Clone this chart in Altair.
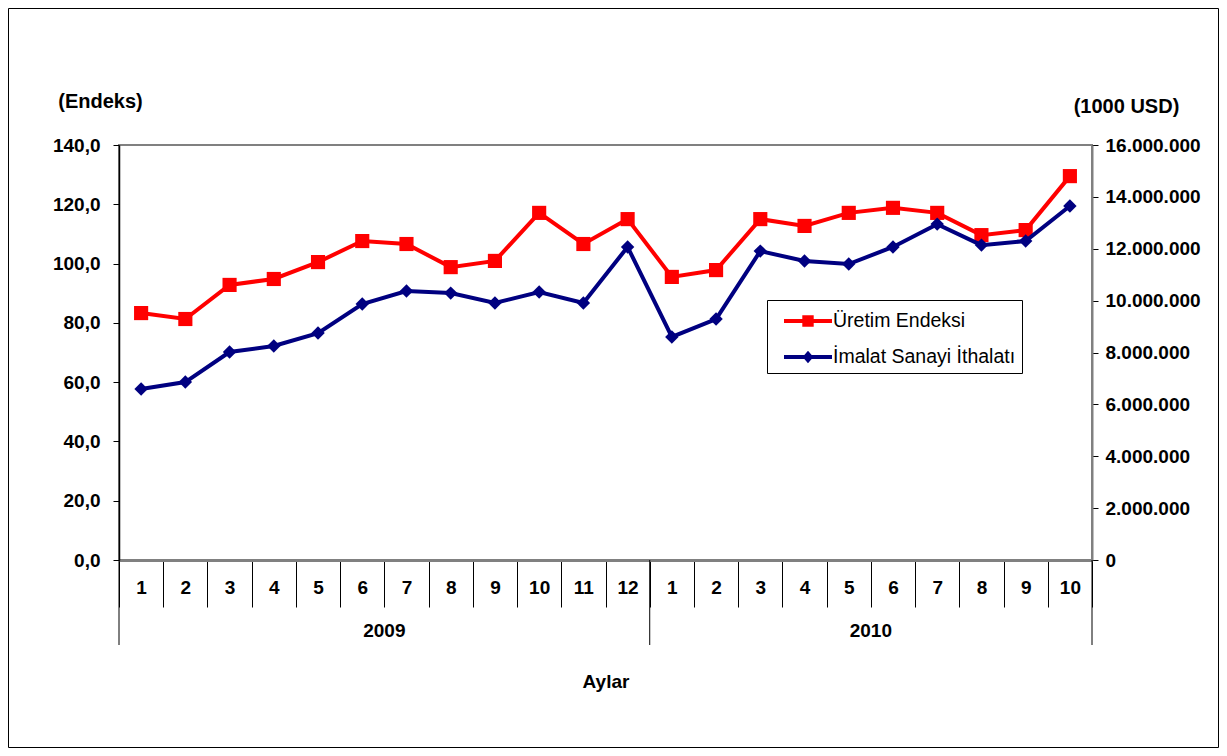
import altair as alt
import pandas as pd

keys = [f"2009-{m}" for m in range(1, 13)] + [f"2010-{m}" for m in range(1, 11)]
uretim = [83.3, 81.3, 92.8, 94.8, 100.5, 107.6, 106.6, 98.8, 100.9, 117.1, 106.6, 115.0,
          95.5, 97.8, 115.0, 112.7, 117.1, 118.8, 117.1, 109.6, 111.3, 129.5]
ithalat = [6590000, 6860000, 8020000, 8250000, 8750000, 9870000, 10370000, 10290000, 9910000,
           10330000, 9910000, 12070000, 8600000, 9290000, 11910000, 11530000, 11410000,
           12070000, 12950000, 12140000, 12300000, 13650000]
series = ["Üretim Endeksi", "İmalat Sanayi İthalatı"]
colors = ["#ff0000", "#000080"]
years = ["2009", "2010"]
year_centers = ["2009-6", "2010-5"]

df = pd.DataFrame({"key": keys, "uretim": uretim, "ithalat": ithalat})
ser_df = pd.DataFrame({"series": series})
year_df = pd.DataFrame({"anchor": year_centers, "year": years})
sep_start = pd.DataFrame({"anchor": ["2009-1", "2010-1"]})
sep_end = pd.DataFrame({"anchor": ["2010-10"]})
one = pd.DataFrame({"a": [0]})

FONT = "Liberation Sans"
LFS = 19
W, H = 973, 415

xscale = alt.Scale(type="band", domain=keys, paddingInner=0, paddingOuter=0)
xaxis = alt.Axis(
    title="Aylar", labelExpr="split(datum.label, '-')[1]", tickBand="extent",
    tickSize=47, tickColor="#000000", tickWidth=1, domainColor="#808080", domainWidth=3,
    labelFont=FONT, labelFontSize=LFS, labelFontWeight="bold", labelColor="#000",
    labelPadding=-29, labelAngle=0, labelBaseline="top",
    titleFont=FONT, titleFontSize=19, titleFontWeight="bold", titleY=121,
    titleBaseline="middle", titleColor="#000",
)
X = alt.X("key:O", scale=xscale, axis=xaxis, sort=None)

left_axis = alt.Axis(
    values=list(range(0, 141, 20)), format=".1f", title="(Endeks)", titleAngle=0,
    titleX=-19, titleY=-44, titleAlign="center", titleBaseline="middle",
    titleFont=FONT, titleFontSize=20, titleFontWeight="bold", titleColor="#000",
    tickSize=6, tickColor="#000", domainColor="#000", domainWidth=1.5, labelPadding=13,
    labelFont=FONT, labelFontSize=LFS, labelFontWeight="bold", labelColor="#000",
)
right_axis = alt.Axis(
    values=list(range(0, 16000001, 2000000)), format=",d", title="(1000 USD)", titleAngle=0,
    titleX=34, titleY=-39, titleAlign="center", titleBaseline="middle",
    titleFont=FONT, titleFontSize=20, titleFontWeight="bold", titleColor="#000",
    tickSize=6, tickColor="#000", domainColor="#808080", domainWidth=2, labelPadding=7,
    labelFont=FONT, labelFontSize=LFS, labelFontWeight="bold", labelColor="#000",
    orient="right",
)

Yl = alt.Y("uretim:Q", scale=alt.Scale(domain=[0, 140], nice=False), axis=left_axis)
Yr = alt.Y("ithalat:Q", scale=alt.Scale(domain=[0, 16000000], nice=False), axis=right_axis)

base = alt.Chart(df)
red = alt.layer(
    base.mark_line(color=colors[0], strokeWidth=4).encode(x=X, y=Yl),
    base.mark_point(shape="square", filled=True, opacity=1, size=200, color=colors[0]).encode(x=X, y=Yl),
)
blue = alt.layer(
    base.mark_line(color=colors[1], strokeWidth=4).encode(x=X, y=Yr),
    base.mark_point(shape="diamond", filled=True, opacity=1, size=180, color=colors[1]).encode(x=X, y=Yr),
)

sym_red = "M-1.6,-0.13L1.6,-0.13L1.6,0.13L-1.6,0.13Z M-0.38,-0.38L0.38,-0.38L0.38,0.38L-0.38,0.38Z"
sym_blue = "M-1.6,-0.13L1.6,-0.13L1.6,0.13L-1.6,0.13Z M0,-0.42L0.36,0L0,0.42L-0.36,0Z"
legend = alt.Legend(
    title=None, orient="none", legendX=648, legendY=155, padding=6, symbolOffset=20,
    labelOffset=10, rowPadding=11, strokeColor="#000", fillColor="#fff",
    labelFont=FONT, labelFontSize=19.5, labelColor="#000", symbolSize=900,
    symbolStrokeWidth=0, labelLimit=400,
)
leg_layer = alt.Chart(ser_df).transform_filter("datum.series == 'none'").mark_point(
    filled=True, opacity=1, size=900
).encode(
    color=alt.Color("series:N", scale=alt.Scale(domain=series, range=colors), legend=legend),
    shape=alt.Shape("series:N", scale=alt.Scale(domain=series, range=[sym_red, sym_blue]), legend=legend),
)

year_text = alt.Chart(year_df).mark_text(
    font=FONT, fontSize=LFS, fontWeight="bold", color="#000", baseline="middle"
).encode(x=alt.X("anchor:O", scale=xscale, bandPosition=1, axis=xaxis), y=alt.value(486), text="year:N")
rule1 = alt.Chart(sep_start).mark_rule(color="#000", strokeWidth=1).encode(
    x=alt.X("anchor:O", scale=xscale, bandPosition=0, axis=xaxis), y=alt.value(H), y2=alt.value(500))
rule2 = alt.Chart(sep_end).mark_rule(color="#000", strokeWidth=1).encode(
    x=alt.X("anchor:O", scale=xscale, bandPosition=1, axis=xaxis), y=alt.value(H), y2=alt.value(500))
frame = alt.Chart(one).mark_rect(filled=False, stroke="#000", strokeWidth=1).encode(
    x=alt.value(-110.5), x2=alt.value(1099.5), y=alt.value(-136.5), y2=alt.value(602.5))

chart = alt.layer(red, blue, leg_layer, year_text, rule1, rule2, frame).resolve_scale(
    y="independent"
).properties(
    width=W, height=H, autosize=alt.AutoSizeParams(type="none"),
    padding={"left": 111, "top": 137, "right": 127, "bottom": 188},
    background="#ffffff",
).configure_axis(grid=False).configure_view(stroke="#808080", strokeWidth=2)

chart.save("out.html", embed_options={
    "renderer": "svg", "actions": False,
    "formatLocale": {"decimal": ",", "thousands": ".", "grouping": [3], "currency": ["", ""]},
})
